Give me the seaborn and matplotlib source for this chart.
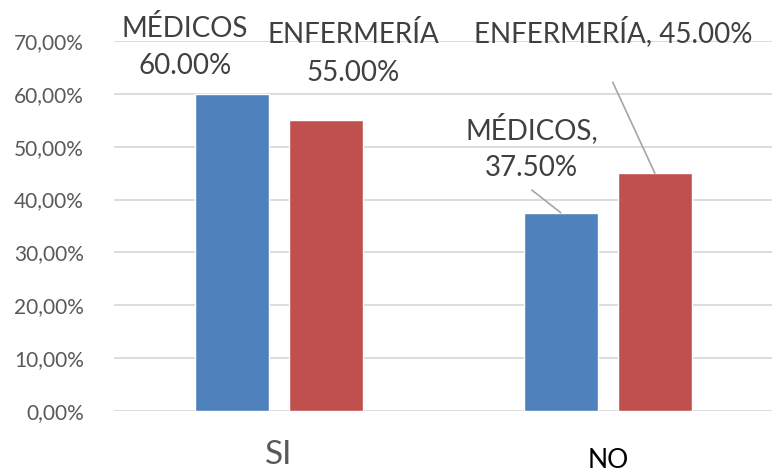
import matplotlib
matplotlib.use("Agg")
import matplotlib.pyplot as plt
from matplotlib.ticker import FuncFormatter
import matplotlib.transforms as mtransforms
import seaborn as sns
import pandas as pd

# Survey results by professional group
categories = ["SI", "NO"]
groups = ["MÉDICOS", "ENFERMERÍA"]
medicos = [60.0, 37.5]
enfermeria = [55.0, 45.0]
y_ticks = [0, 10, 20, 30, 40, 50, 60, 70]

df = pd.DataFrame({
    "respuesta": categories * 2,
    "grupo": [groups[0]] * 2 + [groups[1]] * 2,
    "valor": medicos + enfermeria,
})

sns.set_theme(style="white")
plt.rcParams["font.family"] = ["Lato", "DejaVu Sans"]

fig = plt.figure(figsize=(7.84, 4.74), dpi=100)
ax = fig.add_axes([0.146, 0.133, 0.839, 0.7805])

palette = {"MÉDICOS": "#4F81BD", "ENFERMERÍA": "#C0504D"}
sns.barplot(data=df, x="respuesta", y="valor", hue="grupo", order=categories,
            hue_order=groups, palette=palette, width=0.57, gap=0.21,
            saturation=1, ax=ax, legend=False)

ax.set_ylim(0, 70)
ax.set_xlim(-0.5, 1.5)
ax.set_yticks(y_ticks)
ax.yaxis.set_major_formatter(FuncFormatter(lambda v, _: f"{v:.2f}".replace(".", ",") + "%"))
ax.yaxis.grid(True, color="#D9D9D9", linewidth=1.3)
ax.set_axisbelow(True)
for s in ax.spines.values():
    s.set_visible(False)
ax.tick_params(axis="y", length=0, pad=22, labelsize=15, labelcolor="#595959")
ax.set_xlabel("")
ax.set_ylabel("")
ax.set_xticks([0, 1])
ax.set_xticklabels([])
ax.tick_params(axis="x", length=0)

# Category labels under each group
xtrans = mtransforms.blended_transform_factory(ax.transData, ax.transAxes)
ax.text(0, -0.118, categories[0], transform=xtrans, ha="center", va="center",
        fontsize=24, color="#595959")
ax.text(1, -0.134, categories[1], transform=xtrans, ha="center", va="center",
        fontsize=19, color="#000000")

lab_kw = dict(ha="center", va="center", fontsize=20, color="#404040",
              linespacing=1.55, annotation_clip=False)
line_kw = dict(arrowstyle="-", color="#A6A6A6", lw=1.2, shrinkA=0, shrinkB=0)

# SI group labels above the bars
ax.annotate(f"{groups[0]}\n{medicos[0]:.2f}%", xy=(-0.286, 68.9), **lab_kw)
ax.annotate(f"{groups[1]}\n{enfermeria[0]:.2f}%", xy=(0.225, 67.6), **lab_kw)

# NO group labels with leader lines
ax.annotate("", xy=(1 - 0.143, medicos[1]), xytext=(0.769, 41.8),
            arrowprops=line_kw, annotation_clip=False)
ax.annotate(f"{groups[0]},\n{medicos[1]:.2f}%", xy=(0.769, 49.9), **lab_kw)
ax.annotate("", xy=(1 + 0.143, enfermeria[1]), xytext=(1.015, 62.2),
            arrowprops=line_kw, annotation_clip=False)
ax.annotate(f"{groups[1]}, {enfermeria[1]:.2f}%", xy=(1.018, 71.7), **lab_kw)

fig.savefig("out.png", dpi=100)
